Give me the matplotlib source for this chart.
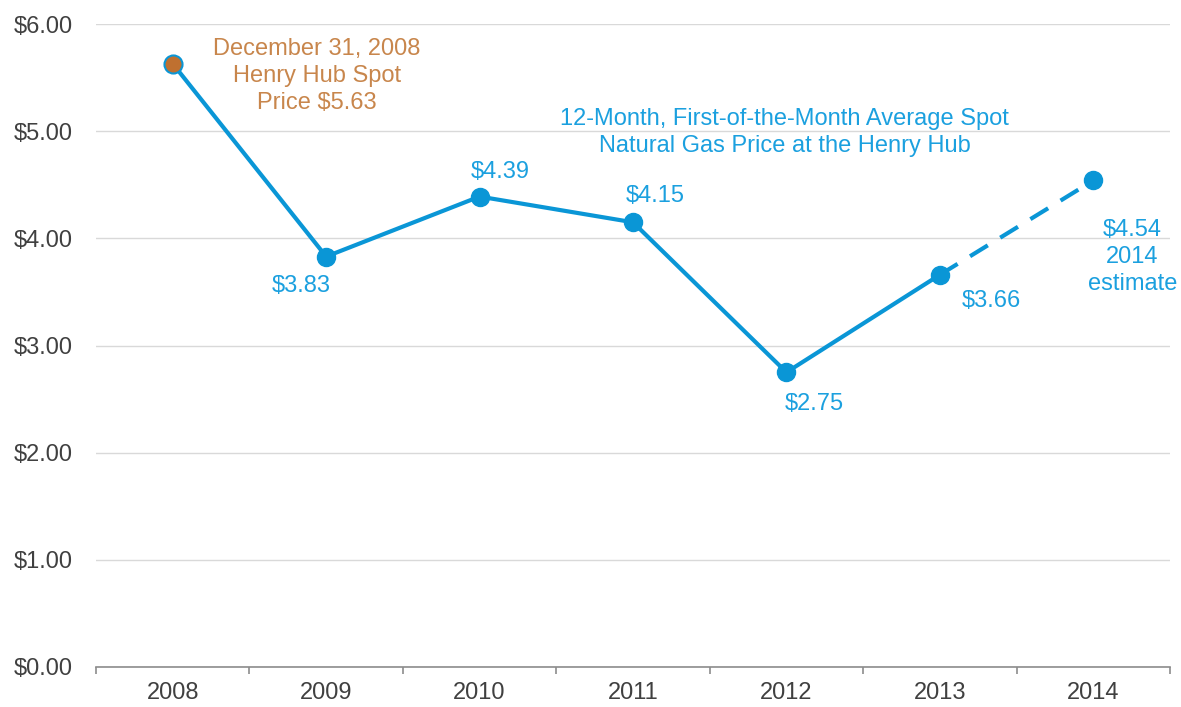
import matplotlib.pyplot as plt
import numpy as np

plt.rcParams['font.family'] = ['Liberation Sans', 'DejaVu Sans']

years = ['2008', '2009', '2010', '2011', '2012', '2013', '2014']
prices = [5.63, 3.83, 4.39, 4.15, 2.75, 3.66, 4.54]
labels = ['', '$3.83', '$4.39', '$4.15', '$2.75', '$3.66', '$4.54\n2014\nestimate']
yticks = [0, 1, 2, 3, 4, 5, 6]

blue = '#0A96D6'
txt_blue = '#1BA0DF'
brown = '#BF7030'
txt_brown = '#C8864C'
fs = 17

fig = plt.figure(figsize=(11.81, 7.07), dpi=100)
ax = fig.add_axes([0.0813, 0.0566, 0.9094, 0.9094])

x = np.arange(len(years))

# actual values (solid) and the estimate (dashed)
ax.plot(x[:6], prices[:6], color=blue, lw=3, zorder=3, solid_capstyle='round')
ax.plot(x[5:], prices[5:], color=blue, lw=3, ls=(0, (5, 3.5)), zorder=3)
ax.plot(x[1:], prices[1:], 'o', color=blue, ms=13, zorder=4)
ax.plot(x[0], prices[0], 'o', color=brown, mec=blue, mew=1.5, ms=13, zorder=4)

# value labels, offsets in points from each point
offsets = [(0, 0), (-18, -21), (15, 18), (16, 19), (20, -23), (37, -19), (28, -55)]
for xi, yi, lab, off in zip(x, prices, labels, offsets):
    if lab:
        ax.annotate(lab, (xi, yi), xytext=off, textcoords='offset points',
                    ha='center', va='center', color=txt_blue, fontsize=fs,
                    linespacing=1.3)

ax.annotate('December 31, 2008\nHenry Hub Spot\nPrice $5.63', (x[0], prices[0]),
            xytext=(104, -9), textcoords='offset points', ha='center', va='center',
            color=txt_brown, fontsize=fs, linespacing=1.3)

ax.text(3.99, 4.99, '12-Month, First-of-the-Month Average Spot\nNatural Gas Price at the Henry Hub',
        ha='center', va='center', color=txt_blue, fontsize=fs, linespacing=1.3)

ax.set_xlim(-0.5, 6.5)
ax.set_ylim(0, 6)
ax.set_yticks(yticks)
ax.set_yticklabels(['$%.2f' % v for v in yticks])
ax.set_xticks(x)
ax.set_xticklabels(years)
ax.set_xticks(np.arange(-0.5, 7, 1), minor=True)

ax.grid(axis='y', color='#D9D9D9', lw=1)
ax.set_axisbelow(True)
for s in ['top', 'right', 'left']:
    ax.spines[s].set_visible(False)
ax.spines['bottom'].set_color('#8C8C8C')
ax.spines['bottom'].set_linewidth(1.2)

ax.tick_params(axis='y', length=0, pad=17, labelsize=17, labelcolor='#404040')
ax.tick_params(axis='x', which='major', length=0, pad=11, labelsize=17, labelcolor='#404040')
ax.tick_params(axis='x', which='minor', length=5, width=1.2, color='#8C8C8C')

plt.savefig('out.png', dpi=100)
plt.close()
